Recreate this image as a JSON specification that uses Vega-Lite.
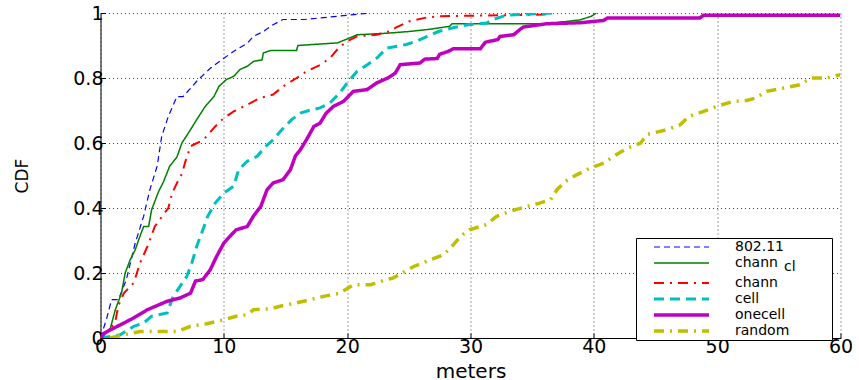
{
  "$schema": "https://vega.github.io/schema/vega-lite/v6.json",
  "width": 740,
  "height": 325,
  "autosize": {"type": "none"},
  "padding": {"left": 100.5, "top": 13, "right": 18.5, "bottom": 42},
  "background": "white",
  "config": {
    "view": {"stroke": null},
    "font": "DejaVu Sans",
    "axis": {
      "domainColor": "black",
      "domainWidth": 1,
      "tickColor": "black",
      "tickSize": -5,
      "labelColor": "black",
      "labelFont": "DejaVu Sans",
      "labelFontSize": 19,
      "titleFont": "DejaVu Sans",
      "titleFontWeight": "normal",
      "titleColor": "black",
      "gridColor": "#444444",
      "gridDash": [1, 3],
      "gridWidth": 1,
      "gridOpacity": 1
    },
    "legend": {
      "orient": "none",
      "legendX": 535.5,
      "legendY": 225,
      "strokeColor": "black",
      "fillColor": "white",
      "padding": 2,
      "labelFont": "DejaVu Sans",
      "labelFontSize": 14,
      "labelColor": "black",
      "labelLimit": 300
    }
  },
  "data": {
    "values": [
      {"s":"802.11","x":0,"y":0},{"s":"802.11","x":0.5,"y":0.06},{"s":"802.11","x":0.9,"y":0.118},{"s":"802.11","x":1.45,"y":0.118},{"s":"802.11","x":2.1,"y":0.18},{"s":"802.11","x":2.8,"y":0.29},{"s":"802.11","x":3.5,"y":0.375},{"s":"802.11","x":4.0,"y":0.456},{"s":"802.11","x":4.6,"y":0.53},{"s":"802.11","x":4.96,"y":0.62},{"s":"802.11","x":5.5,"y":0.682},{"s":"802.11","x":6.2,"y":0.743},{"s":"802.11","x":6.7,"y":0.743},{"s":"802.11","x":7.2,"y":0.764},{"s":"802.11","x":7.8,"y":0.79},{"s":"802.11","x":8.9,"y":0.83},{"s":"802.11","x":10.0,"y":0.861},{"s":"802.11","x":11.0,"y":0.887},{"s":"802.11","x":11.9,"y":0.907},{"s":"802.11","x":12.4,"y":0.928},{"s":"802.11","x":13.2,"y":0.943},{"s":"802.11","x":14.0,"y":0.964},{"s":"802.11","x":14.8,"y":0.98},{"s":"802.11","x":16.5,"y":0.98},{"s":"802.11","x":19.2,"y":0.99},{"s":"802.11","x":21.9,"y":1.0},
      {"s":"chann_cl","x":0,"y":0},{"s":"chann_cl","x":0.8,"y":0.03},{"s":"chann_cl","x":1.2,"y":0.087},{"s":"chann_cl","x":1.7,"y":0.138},{"s":"chann_cl","x":2.0,"y":0.2},{"s":"chann_cl","x":2.4,"y":0.24},{"s":"chann_cl","x":2.8,"y":0.27},{"s":"chann_cl","x":3.2,"y":0.313},{"s":"chann_cl","x":3.5,"y":0.343},{"s":"chann_cl","x":3.9,"y":0.343},{"s":"chann_cl","x":4.15,"y":0.395},{"s":"chann_cl","x":4.7,"y":0.45},{"s":"chann_cl","x":5.1,"y":0.48},{"s":"chann_cl","x":5.6,"y":0.528},{"s":"chann_cl","x":6.2,"y":0.557},{"s":"chann_cl","x":6.6,"y":0.6},{"s":"chann_cl","x":7.3,"y":0.641},{"s":"chann_cl","x":7.8,"y":0.672},{"s":"chann_cl","x":8.5,"y":0.713},{"s":"chann_cl","x":9.2,"y":0.743},{"s":"chann_cl","x":9.6,"y":0.774},{"s":"chann_cl","x":10.2,"y":0.795},{"s":"chann_cl","x":10.8,"y":0.805},{"s":"chann_cl","x":11.3,"y":0.826},{"s":"chann_cl","x":11.9,"y":0.836},{"s":"chann_cl","x":12.4,"y":0.851},{"s":"chann_cl","x":13.1,"y":0.856},{"s":"chann_cl","x":13.2,"y":0.877},{"s":"chann_cl","x":13.8,"y":0.885},{"s":"chann_cl","x":15.9,"y":0.885},{"s":"chann_cl","x":16.0,"y":0.9},{"s":"chann_cl","x":19.2,"y":0.908},{"s":"chann_cl","x":20.0,"y":0.92},{"s":"chann_cl","x":20.5,"y":0.928},{"s":"chann_cl","x":20.8,"y":0.933},{"s":"chann_cl","x":23.3,"y":0.938},{"s":"chann_cl","x":25.0,"y":0.943},{"s":"chann_cl","x":26.7,"y":0.95},{"s":"chann_cl","x":28.3,"y":0.959},{"s":"chann_cl","x":28.5,"y":0.967},{"s":"chann_cl","x":36.2,"y":0.967},{"s":"chann_cl","x":38.9,"y":0.979},{"s":"chann_cl","x":39.8,"y":0.99},{"s":"chann_cl","x":40.2,"y":1.0},
      {"s":"chann","x":0,"y":0},{"s":"chann","x":0.6,"y":0.02},{"s":"chann","x":1.2,"y":0.05},{"s":"chann","x":1.45,"y":0.1},{"s":"chann","x":1.9,"y":0.138},{"s":"chann","x":2.7,"y":0.17},{"s":"chann","x":3.2,"y":0.23},{"s":"chann","x":3.9,"y":0.29},{"s":"chann","x":4.4,"y":0.343},{"s":"chann","x":5.0,"y":0.375},{"s":"chann","x":5.5,"y":0.4},{"s":"chann","x":5.8,"y":0.445},{"s":"chann","x":6.2,"y":0.477},{"s":"chann","x":6.6,"y":0.505},{"s":"chann","x":6.9,"y":0.545},{"s":"chann","x":7.3,"y":0.59},{"s":"chann","x":8.1,"y":0.605},{"s":"chann","x":8.6,"y":0.62},{"s":"chann","x":9.3,"y":0.651},{"s":"chann","x":10.0,"y":0.677},{"s":"chann","x":10.8,"y":0.697},{"s":"chann","x":11.9,"y":0.718},{"s":"chann","x":12.9,"y":0.738},{"s":"chann","x":14.0,"y":0.749},{"s":"chann","x":14.8,"y":0.774},{"s":"chann","x":15.9,"y":0.8},{"s":"chann","x":16.7,"y":0.82},{"s":"chann","x":17.8,"y":0.84},{"s":"chann","x":18.6,"y":0.861},{"s":"chann","x":19.3,"y":0.892},{"s":"chann","x":20.0,"y":0.913},{"s":"chann","x":20.8,"y":0.928},{"s":"chann","x":22.4,"y":0.933},{"s":"chann","x":23.4,"y":0.943},{"s":"chann","x":23.9,"y":0.954},{"s":"chann","x":25.0,"y":0.974},{"s":"chann","x":26.3,"y":0.985},{"s":"chann","x":27.3,"y":0.99},{"s":"chann","x":36.0,"y":0.995},{"s":"chann","x":36.3,"y":1.0},
      {"s":"cell","x":0,"y":0},{"s":"cell","x":1.6,"y":0.01},{"s":"cell","x":2.7,"y":0.036},{"s":"cell","x":3.5,"y":0.046},{"s":"cell","x":4.15,"y":0.067},{"s":"cell","x":5.4,"y":0.077},{"s":"cell","x":5.9,"y":0.128},{"s":"cell","x":6.45,"y":0.159},{"s":"cell","x":7.0,"y":0.19},{"s":"cell","x":7.4,"y":0.23},{"s":"cell","x":7.8,"y":0.282},{"s":"cell","x":8.3,"y":0.333},{"s":"cell","x":8.7,"y":0.375},{"s":"cell","x":9.3,"y":0.415},{"s":"cell","x":10.0,"y":0.446},{"s":"cell","x":10.8,"y":0.467},{"s":"cell","x":11.2,"y":0.518},{"s":"cell","x":11.9,"y":0.544},{"s":"cell","x":12.7,"y":0.559},{"s":"cell","x":13.4,"y":0.59},{"s":"cell","x":14.0,"y":0.61},{"s":"cell","x":14.7,"y":0.641},{"s":"cell","x":15.5,"y":0.672},{"s":"cell","x":16.2,"y":0.692},{"s":"cell","x":16.9,"y":0.7},{"s":"cell","x":17.8,"y":0.708},{"s":"cell","x":18.6,"y":0.723},{"s":"cell","x":19.4,"y":0.754},{"s":"cell","x":20.1,"y":0.79},{"s":"cell","x":20.8,"y":0.82},{"s":"cell","x":21.6,"y":0.84},{"s":"cell","x":22.4,"y":0.861},{"s":"cell","x":23.2,"y":0.892},{"s":"cell","x":24.8,"y":0.903},{"s":"cell","x":25.6,"y":0.913},{"s":"cell","x":26.5,"y":0.928},{"s":"cell","x":27.4,"y":0.943},{"s":"cell","x":28.5,"y":0.954},{"s":"cell","x":29.8,"y":0.964},{"s":"cell","x":31.3,"y":0.969},{"s":"cell","x":32.0,"y":0.982},{"s":"cell","x":32.9,"y":0.993},{"s":"cell","x":36.7,"y":1.0},
      {"s":"onecell","x":0,"y":0},{"s":"onecell","x":0.3,"y":0.015},{"s":"onecell","x":0.8,"y":0.025},{"s":"onecell","x":1.9,"y":0.046},{"s":"onecell","x":2.7,"y":0.062},{"s":"onecell","x":3.8,"y":0.087},{"s":"onecell","x":4.6,"y":0.1},{"s":"onecell","x":5.4,"y":0.113},{"s":"onecell","x":6.45,"y":0.123},{"s":"onecell","x":7.3,"y":0.138},{"s":"onecell","x":7.7,"y":0.175},{"s":"onecell","x":8.3,"y":0.18},{"s":"onecell","x":8.9,"y":0.21},{"s":"onecell","x":9.4,"y":0.25},{"s":"onecell","x":10.0,"y":0.292},{"s":"onecell","x":10.5,"y":0.313},{"s":"onecell","x":11.0,"y":0.333},{"s":"onecell","x":11.9,"y":0.343},{"s":"onecell","x":12.4,"y":0.375},{"s":"onecell","x":13.0,"y":0.405},{"s":"onecell","x":13.5,"y":0.456},{"s":"onecell","x":14.0,"y":0.477},{"s":"onecell","x":14.8,"y":0.487},{"s":"onecell","x":15.4,"y":0.518},{"s":"onecell","x":15.8,"y":0.56},{"s":"onecell","x":16.2,"y":0.579},{"s":"onecell","x":16.7,"y":0.61},{"s":"onecell","x":17.3,"y":0.651},{"s":"onecell","x":17.8,"y":0.661},{"s":"onecell","x":18.3,"y":0.692},{"s":"onecell","x":18.9,"y":0.713},{"s":"onecell","x":19.7,"y":0.728},{"s":"onecell","x":20.5,"y":0.759},{"s":"onecell","x":21.6,"y":0.764},{"s":"onecell","x":22.4,"y":0.785},{"s":"onecell","x":23.3,"y":0.8},{"s":"onecell","x":23.9,"y":0.815},{"s":"onecell","x":24.3,"y":0.841},{"s":"onecell","x":25.9,"y":0.846},{"s":"onecell","x":26.3,"y":0.858},{"s":"onecell","x":27.3,"y":0.86},{"s":"onecell","x":27.5,"y":0.873},{"s":"onecell","x":28.2,"y":0.882},{"s":"onecell","x":28.6,"y":0.89},{"s":"onecell","x":30.8,"y":0.89},{"s":"onecell","x":31.2,"y":0.91},{"s":"onecell","x":32.2,"y":0.918},{"s":"onecell","x":32.4,"y":0.928},{"s":"onecell","x":33.5,"y":0.933},{"s":"onecell","x":34.0,"y":0.949},{"s":"onecell","x":34.3,"y":0.957},{"s":"onecell","x":36.2,"y":0.967},{"s":"onecell","x":38.9,"y":0.97},{"s":"onecell","x":40.8,"y":0.977},{"s":"onecell","x":41.1,"y":0.985},{"s":"onecell","x":48.6,"y":0.985},{"s":"onecell","x":48.9,"y":0.993},{"s":"onecell","x":60,"y":0.993},
      {"s":"random","x":0.8,"y":0},{"s":"random","x":1.9,"y":0.01},{"s":"random","x":3.2,"y":0.02},{"s":"random","x":6.2,"y":0.02},{"s":"random","x":7.3,"y":0.036},{"s":"random","x":8.6,"y":0.044},{"s":"random","x":10.0,"y":0.056},{"s":"random","x":11.0,"y":0.067},{"s":"random","x":11.9,"y":0.072},{"s":"random","x":12.4,"y":0.087},{"s":"random","x":13.8,"y":0.09},{"s":"random","x":14.8,"y":0.1},{"s":"random","x":15.9,"y":0.108},{"s":"random","x":17.0,"y":0.118},{"s":"random","x":18.1,"y":0.128},{"s":"random","x":19.4,"y":0.138},{"s":"random","x":20.5,"y":0.164},{"s":"random","x":21.9,"y":0.164},{"s":"random","x":23.2,"y":0.18},{"s":"random","x":23.7,"y":0.184},{"s":"random","x":25.4,"y":0.22},{"s":"random","x":26.7,"y":0.24},{"s":"random","x":27.8,"y":0.256},{"s":"random","x":28.5,"y":0.282},{"s":"random","x":29.2,"y":0.313},{"s":"random","x":29.9,"y":0.333},{"s":"random","x":31.3,"y":0.349},{"s":"random","x":32.1,"y":0.374},{"s":"random","x":33.2,"y":0.39},{"s":"random","x":34.6,"y":0.405},{"s":"random","x":35.6,"y":0.415},{"s":"random","x":36.5,"y":0.426},{"s":"random","x":37.0,"y":0.456},{"s":"random","x":37.7,"y":0.482},{"s":"random","x":38.6,"y":0.502},{"s":"random","x":39.7,"y":0.523},{"s":"random","x":40.8,"y":0.538},{"s":"random","x":41.6,"y":0.559},{"s":"random","x":42.7,"y":0.584},{"s":"random","x":43.8,"y":0.6},{"s":"random","x":44.3,"y":0.626},{"s":"random","x":45.9,"y":0.641},{"s":"random","x":47.0,"y":0.656},{"s":"random","x":47.7,"y":0.682},{"s":"random","x":48.9,"y":0.697},{"s":"random","x":50.0,"y":0.713},{"s":"random","x":51.3,"y":0.728},{"s":"random","x":52.4,"y":0.731},{"s":"random","x":53.1,"y":0.738},{"s":"random","x":54.0,"y":0.759},{"s":"random","x":55.4,"y":0.769},{"s":"random","x":56.7,"y":0.779},{"s":"random","x":57.6,"y":0.8},{"s":"random","x":58.9,"y":0.8},{"s":"random","x":59.6,"y":0.807},{"s":"random","x":60,"y":0.81}
    ]
  },
  "mark": {"type": "line", "clip": true},
  "encoding": {
    "x": {
      "field": "x",
      "type": "quantitative",
      "scale": {"domain": [0, 60], "nice": false},
      "axis": {
        "values": [0, 10, 20, 30, 40, 50, 60],
        "grid": true,
        "title": "meters",
        "titleFontSize": 20,
        "titleBaseline": "alphabetic",
        "titleY": 39.5,
        "labelPadding": 4,
        "labelFlush": false
      }
    },
    "y": {
      "field": "y",
      "type": "quantitative",
      "scale": {"domain": [0, 1], "nice": false},
      "axis": {
        "values": [0, 0.2, 0.4, 0.6, 0.8, 1],
        "format": "~g",
        "grid": true,
        "title": "CDF",
        "titleFontSize": 17,
        "titleAngle": 270,
        "titleBaseline": "alphabetic",
        "titleX": -73.5,
        "titleY": 162.5,
        "labelPadding": 2.5,
        "labelFlush": false
      }
    },
    "color": {
      "field": "s",
      "type": "nominal",
      "scale": {
        "domain": ["802.11", "chann_cl", "chann", "cell", "onecell", "random"],
        "range": ["#0000ff", "#008000", "#ff0000", "#00bfbf", "#bf00bf", "#bfbf00"]
      },
      "legend": {
        "title": null,
        "symbolType": "M-5.5,0H5.5",
        "symbolSize": 100,
        "symbolOffset": 36.5,
        "labelOffset": 46.5,
        "labelExpr": "datum.label == 'chann_cl' ? ['chann', '\u200b\u00a0\u00a0\u00a0\u00a0\u00a0\u00a0\u00a0\u00a0\u00a0\u00a0\u00a0cl'] : datum.label + '\u00a0\u00a0\u00a0\u00a0\u00a0\u00a0\u00a0\u00a0\u00a0\u200b'",
        "encode": {
          "labels": {"update": {"lineHeight": {"value": 4}}},
          "symbols": {"update": {
            "stroke": {"scale": "color", "field": "value"},
            "strokeWidth": {"scale": "strokeWidth", "field": "value"},
            "strokeDash": {"scale": "strokeDash", "field": "value"}
          }}
        }
      }
    },
    "strokeDash": {
      "field": "s",
      "type": "nominal",
      "scale": {
        "domain": ["802.11", "chann_cl", "chann", "cell", "onecell", "random"],
        "range": [[6, 4], [1, 0], [10, 6, 2, 6], [10, 6], [1, 0], [10, 6, 2, 6]]
      },
      "legend": {"title": null}
    },
    "strokeWidth": {
      "field": "s",
      "type": "nominal",
      "scale": {
        "type": "ordinal",
        "domain": ["802.11", "chann_cl", "chann", "cell", "onecell", "random"],
        "range": [1.2, 1.5, 2, 3, 3.5, 3.5]
      },
      "legend": {"title": null}
    }
  }
}
